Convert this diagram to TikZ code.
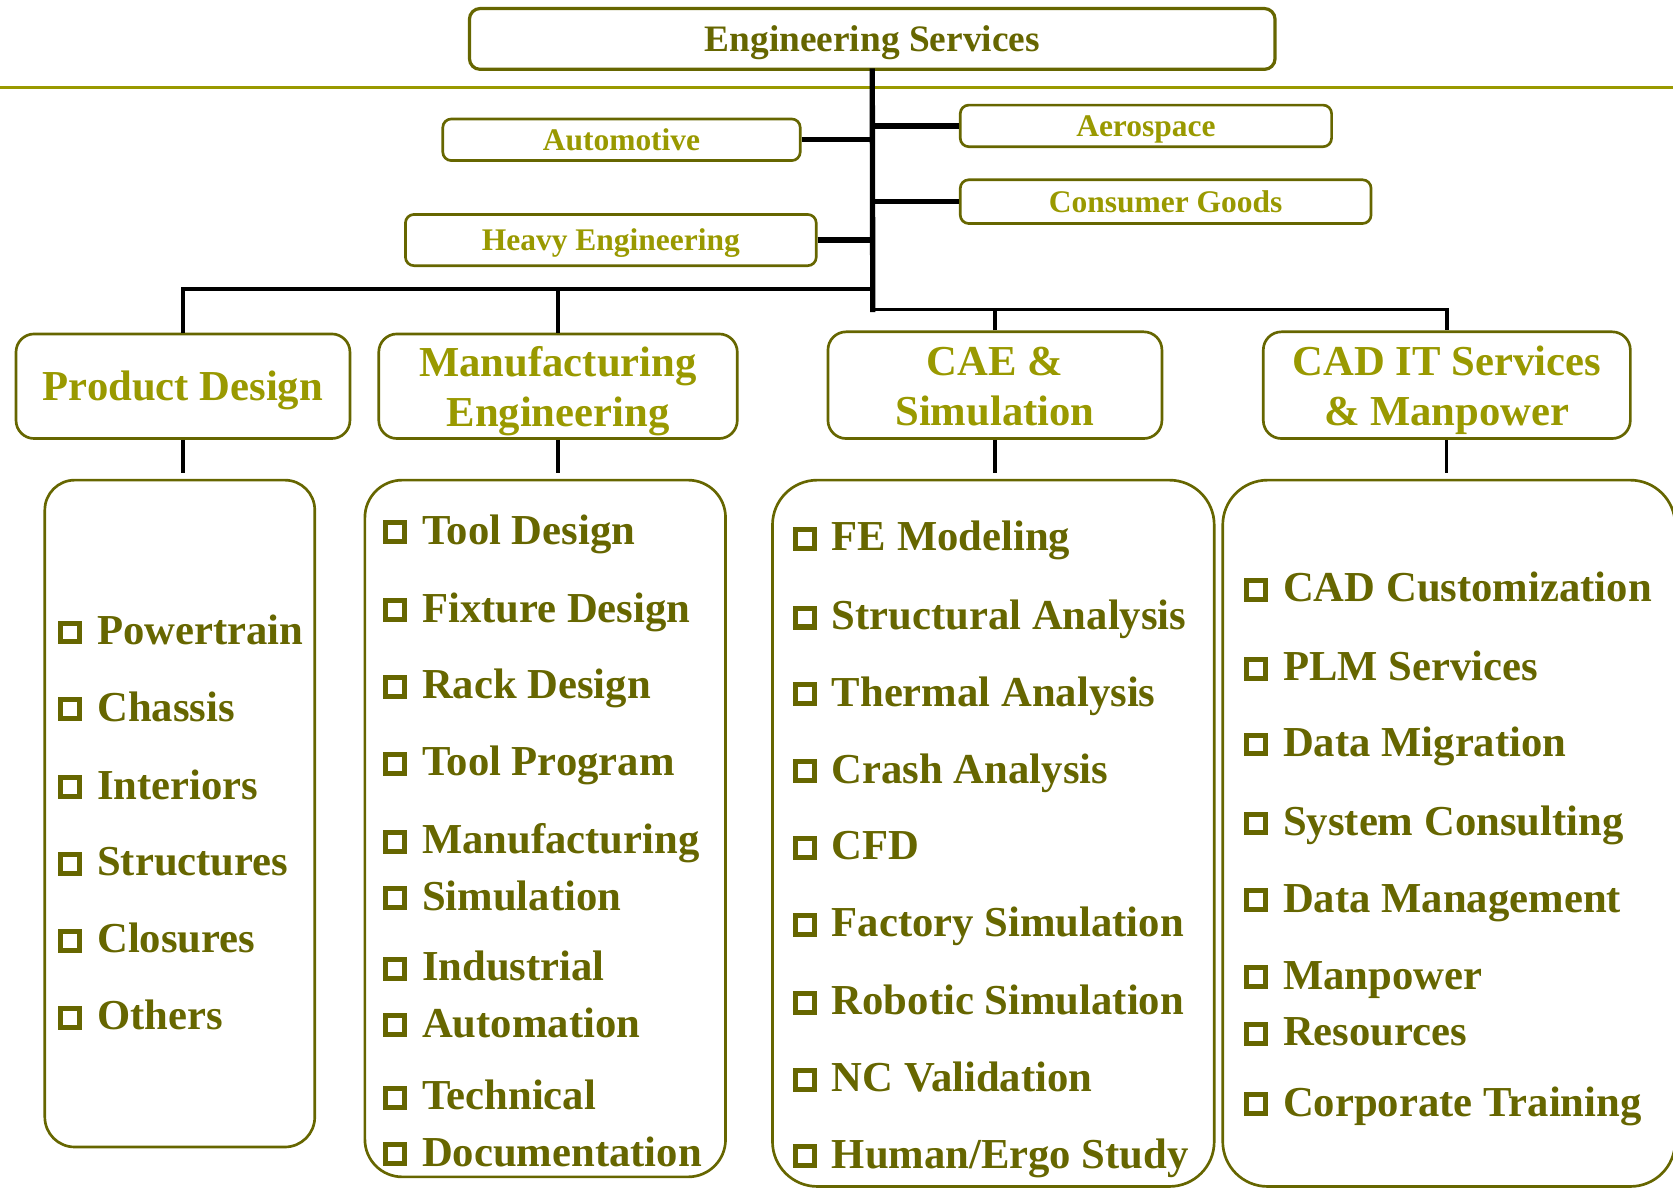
\documentclass[tikz,border=0pt]{standalone}
\usepackage{fontspec}
\setmainfont{Liberation Serif}
\definecolor{olivedk}{RGB}{102,102,0}
\definecolor{olivelt}{RGB}{153,153,0}
\newcommand{\sqb}{\raisebox{4.7pt}{\fboxsep=0pt\fboxrule=4.7pt\fbox{\rule{13pt}{0pt}\rule{0pt}{13pt}}}\hspace{14pt}}
\newcommand{\hstrut}{\rule{0pt}{38pt}}
\newcommand{\dstrut}{\rule[-10pt]{0pt}{10pt}}
\tikzset{
  topbox/.style={draw=olivedk, line width=3pt, rounded corners=10pt, text=olivedk,
    font=\fontsize{35}{42}\selectfont\bfseries, text height=23.4pt, text depth=0pt,
    inner sep=0pt, minimum width=755pt, minimum height=57pt},
  marketbox/.style={draw=olivedk, line width=2.5pt, rounded corners=8pt, text=olivelt,
    font=\fontsize{29.5}{35}\selectfont\bfseries, text height=19.8pt, text depth=0pt,
    inner sep=0pt},
  headbox/.style={draw=olivedk, line width=2.5pt, rounded corners=17pt, text=olivelt,
    font=\fontsize{40}{47}\selectfont\bfseries, align=center, inner sep=0pt},
  listbox/.style={draw=olivedk, line width=2.5pt, rounded corners=#1},
  listitem/.style={anchor=base west, inner sep=0pt, text=olivedk,
    font=\fontsize{40}{47}\selectfont\bfseries},
  trunk/.style={line width=5pt, line cap=rect},
  branch/.style={line width=5pt},
  bus/.style={line width=3.5pt},
  drop/.style={line width=3pt, shorten >=5pt}
}
\begin{document}
\begin{tikzpicture}[x=1pt,y=-1pt]
      \useasboundingbox (0,0) rectangle (1568,1115);
      \draw [color=olivelt, line width=3pt] (0,82) -- (1568,82);
      % top and markets
      \node[topbox] (top) at (817.5,36.5) {Engineering Services};
      \node[marketbox, minimum width=335pt, minimum height=39pt] (auto) at (582.5,131) {Automotive};
      \node[marketbox, minimum width=348pt, minimum height=39pt] (aero) at (1074,118) {Aerospace};
      \node[marketbox, minimum width=385pt, minimum height=41pt] (cons) at (1092.5,189) {Consumer Goods};
      \node[marketbox, minimum width=385pt, minimum height=48pt] (heavy) at (572.5,225) {Heavy Engineering};
      % service headers
      \node[headbox, minimum width=313pt, minimum height=98pt, text height=26.8pt, text depth=0pt] (pd) at (171.5,362) {Product Design};
      \node[headbox, minimum width=336pt, minimum height=98pt] (me) at (523,362) {\hstrut Manufacturing\\Engineering\dstrut};
      \node[headbox, minimum width=313pt, minimum height=100pt] (cae) at (932.5,361) {\hstrut CAE \&\\Simulation\dstrut};
      \node[headbox, minimum width=344pt, minimum height=100pt] (cad) at (1356,361) {\hstrut CAD IT Services\\\& Manpower\dstrut};
      % list frames
      \node[listbox=28pt, minimum width=253pt, minimum height=625pt] (pdl) at (168.5,762.5) {};
      \node[listbox=35pt, minimum width=338pt, minimum height=653pt] (mel) at (511,776.5) {};
      \node[listbox=42pt, minimum width=414pt, minimum height=662pt] (cael) at (931,781) {};
      \node[listbox=42pt, minimum width=424pt, minimum height=662pt] (cadl) at (1358,781) {};
      % connectors
      \coordinate (j) at (818,290);
      \coordinate (k) at (818,271);
      \draw[trunk] (top.south) -- (j);
      \draw[branch] (auto.east) -- (auto.east -| j);
      \draw[branch] (aero.west) -- (aero.west -| j);
      \draw[branch] (cons.west) -- (cons.west -| j);
      \draw[branch] (heavy.east) -- (heavy.east -| j);
      \draw[bus] (k) -| (pd.north);
      \draw[bus] (me.north) -- (me.north |- k);
      \draw[bus] (j) -| (cad.north);
      \draw[bus] (cae.north) -- (cae.north |- j);
      \draw[drop] (pd.south) -- (pd.south |- pdl.north);
      \draw[drop] (me.south) -- (me.south |- mel.north);
      \draw[drop] (cae.south) -- (cae.south |- cael.north);
      \draw[drop] (cad.south) -- (cad.south |- cadl.north);
      % product design
      \node[listitem] (pd1) at (54.5,604) {\sqb Powertrain};
      \node[listitem] (pd2) at (54.5,676) {\sqb Chassis};
      \node[listitem] (pd3) at (54.5,749) {\sqb Interiors};
      \node[listitem] (pd4) at (54.5,821) {\sqb Structures};
      \node[listitem] (pd5) at (54.5,893) {\sqb Closures};
      \node[listitem] (pd6) at (54.5,965) {\sqb Others};
      % manufacturing engineering
      \node[listitem] (me1) at (359,510) {\sqb Tool Design};
      \node[listitem] (me2) at (359,583) {\sqb Fixture Design};
      \node[listitem] (me3) at (359,655) {\sqb Rack Design};
      \node[listitem] (me4) at (359,727) {\sqb Tool Program};
      \node[listitem] (me5) at (359,800) {\sqb Manufacturing};
      \node[listitem] (me6) at (359,853) {\sqb Simulation};
      \node[listitem] (me7) at (359,919) {\sqb Industrial};
      \node[listitem] (me8) at (359,972) {\sqb Automation};
      \node[listitem] (me9) at (359,1040) {\sqb Technical};
      \node[listitem] (me10) at (359,1093) {\sqb Documentation};
      % cae
      \node[listitem] (cae1) at (743,516) {\sqb FE Modeling};
      \node[listitem] (cae2) at (743,590) {\sqb Structural Analysis};
      \node[listitem] (cae3) at (743,662) {\sqb Thermal Analysis};
      \node[listitem] (cae4) at (743,734) {\sqb Crash Analysis};
      \node[listitem] (cae5) at (743,806) {\sqb CFD};
      \node[listitem] (cae6) at (743,878) {\sqb Factory Simulation};
      \node[listitem] (cae7) at (743,951) {\sqb Robotic Simulation};
      \node[listitem] (cae8) at (743,1023) {\sqb NC Validation};
      \node[listitem] (cae9) at (743,1095) {\sqb Human/Ergo Study};
      % cad it
      \node[listitem] (cad1) at (1166,564) {\sqb CAD Customization};
      \node[listitem] (cad2) at (1166,638) {\sqb PLM Services};
      \node[listitem] (cad3) at (1166,709) {\sqb Data Migration};
      \node[listitem] (cad4) at (1166,783) {\sqb System Consulting};
      \node[listitem] (cad5) at (1166,855) {\sqb Data Management};
      \node[listitem] (cad6) at (1166,927) {\sqb Manpower};
      \node[listitem] (cad7) at (1166,980) {\sqb Resources};
      \node[listitem] (cad8) at (1166,1046) {\sqb Corporate Training};
    \end{tikzpicture}
\end{document}
